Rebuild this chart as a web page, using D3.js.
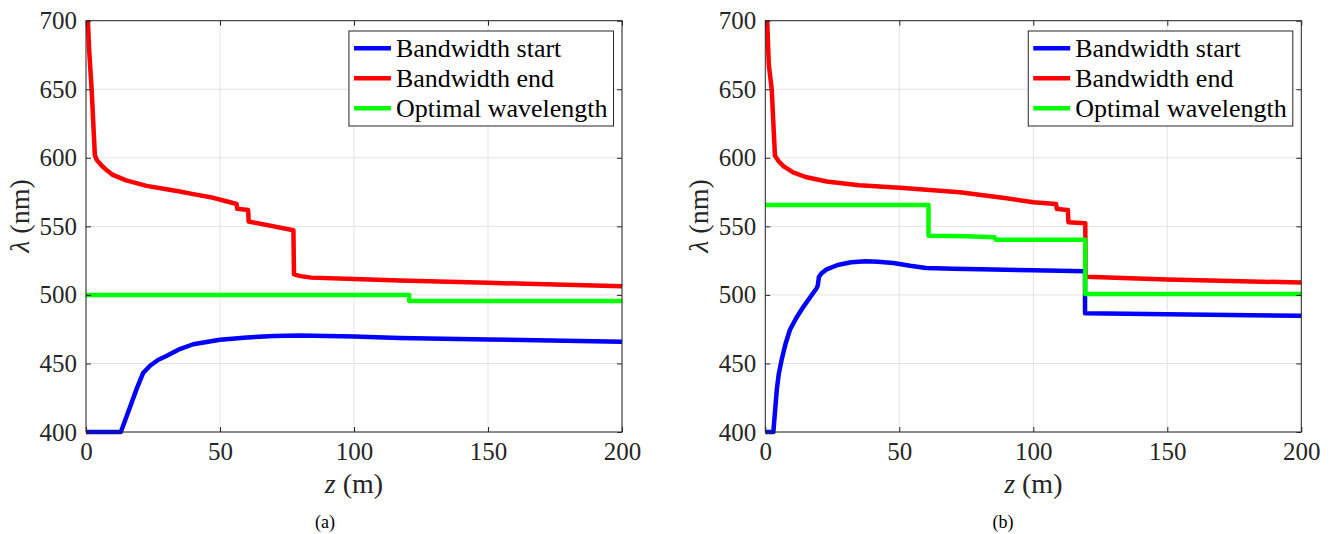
<!DOCTYPE html>
<html>
<head>
<meta charset="utf-8">
<script src="https://cdn.jsdelivr.net/npm/d3@7"></script>
<style>
  body { margin: 0; background: #ffffff; }
</style>
</head>
<body>
<svg id="chart" width="1333" height="534"></svg>
<script>
// axis ticks
const zTicks = [0, 50, 100, 150, 200];
const lambdaTicks = [400, 450, 500, 550, 600, 650, 700];

const seriesNames = ['Bandwidth start', 'Bandwidth end', 'Optimal wavelength'];
const seriesColors = ['#0000ff', '#ff0000', '#00ff00'];

// panel (a): [z, lambda]
const startA = [[0, 400], [13, 400], [16.4, 418], [19, 432], [21.3, 443], [24, 448.5], [27, 452.7],
    [30, 455.5], [35, 460.5], [40, 464], [50, 467.3], [60, 469], [70, 470], [80, 470.3],
    [100, 469.7], [117, 468.5], [150, 467.5], [200, 465.8]];
const endA = [[0.7, 700], [1.2, 678], [2.1, 650], [3.3, 602], [4, 598.5], [6, 594], [8, 590.5],
    [10, 587.5], [15, 583.5], [22.6, 579.5], [30, 577], [35, 575.4], [40, 573.5], [47.5, 570.8],
    [52, 568.5], [56.2, 566.3], [56.4, 562.8], [60.5, 562], [60.7, 553.5], [77.4, 547.2],
    [77.6, 515], [80, 513.7], [84, 512.6], [100, 511.6], [117, 510.5], [150, 508.8], [200, 506.3]];
const optA = [[0, 500], [120.6, 500], [120.6, 495.5], [200, 495.5]];

// panel (b): [z, lambda]
const startB = [[0, 400], [3, 400], [4.3, 431], [5, 442], [6.1, 452.7], [7.5, 464], [9.2, 474.6],
    [11.5, 483], [14.2, 491.3], [17, 499], [19.2, 505], [19.6, 507], [20, 513], [21, 515.8],
    [22.9, 518.6], [27, 521.8], [32, 523.8], [37.5, 524.5], [42, 524.2], [47.8, 523.2],
    [54, 521.2], [60, 519.6], [70, 519.1], [85, 518.5], [100, 517.9], [119.3, 517.2],
    [119.3, 486.6], [150, 485.8], [200, 484.8]];
const endB = [[0.7, 700], [1.3, 668], [2.4, 650], [3.6, 601.5], [5, 597.5], [7, 593.5],
    [10.4, 589.3], [15, 586], [22.9, 582.7], [35, 580], [50.2, 578.2], [72.6, 574.8], [90, 570.5],
    [100, 567.6], [108.5, 566.3], [108.8, 562.6], [112.9, 562], [113.1, 553], [119.4, 552.3],
    [119.5, 513.2], [150, 511.2], [200, 509]];
const optB = [[0, 565.5], [60.9, 565.5], [60.9, 543.2], [75, 542.7], [85.5, 542], [86, 540.3],
    [119.4, 540.3], [119.4, 500.7], [200, 500.7]];

const panels = [
    { left: 86, caption: '(a)', captionX: 325, series: [startA, endA, optA] },
    { left: 765.3, caption: '(b)', captionX: 1003, series: [startB, endB, optB] }
];

const plotW = 536;
const plotTop = 20.7;
const plotBottom = 432;
const axisColor = '#262626';
const FONT = 'Liberation Serif';

const svg = d3.select('#chart');

panels.forEach(p => {
    const x = d3.scaleLinear().domain([0, 200]).range([p.left, p.left + plotW]);
    const y = d3.scaleLinear().domain([400, 700]).range([plotBottom, plotTop]);
    const g = svg.append('g').attr('font-family', FONT);

    // grid
    g.append('g')
        .selectAll('line')
        .data(zTicks)
        .join('line')
        .attr('x1', d => x(d)).attr('x2', d => x(d))
        .attr('y1', plotTop).attr('y2', plotBottom)
        .attr('stroke', '#e3e3e3').attr('stroke-width', 1);
    g.append('g')
        .selectAll('line')
        .data(lambdaTicks)
        .join('line')
        .attr('x1', p.left).attr('x2', p.left + plotW)
        .attr('y1', d => y(d)).attr('y2', d => y(d))
        .attr('stroke', '#e3e3e3').attr('stroke-width', 1);

    // lines
    const line = d3.line().x(d => x(d[0])).y(d => y(d[1]));
    p.series.forEach((s, i) => {
        g.append('path')
            .datum(s)
            .attr('d', line)
            .attr('fill', 'none')
            .attr('stroke', seriesColors[i])
            .attr('stroke-width', 4.5)
            .attr('stroke-linejoin', 'round');
    });

    // axes, ticks pointing inward, box on all sides
    const styleAxis = sel => {
        sel.attr('font-family', FONT).attr('font-size', 25);
        sel.select('.domain').remove();
        sel.selectAll('.tick line').attr('stroke', axisColor);
        sel.selectAll('.tick text').attr('fill', axisColor);
    };
    g.append('g')
        .attr('transform', `translate(0,${plotBottom})`)
        .call(d3.axisBottom(x).tickValues(zTicks).tickSizeInner(-5).tickSizeOuter(0).tickPadding(10))
        .call(styleAxis);
    g.append('g')
        .attr('transform', `translate(0,${plotTop})`)
        .call(d3.axisTop(x).tickValues(zTicks).tickSizeInner(-5).tickSizeOuter(0).tickFormat(''))
        .call(styleAxis);
    g.append('g')
        .attr('transform', `translate(${p.left},0)`)
        .call(d3.axisLeft(y).tickValues(lambdaTicks).tickSizeInner(-5).tickSizeOuter(0).tickPadding(9))
        .call(styleAxis);
    g.append('g')
        .attr('transform', `translate(${p.left + plotW},0)`)
        .call(d3.axisRight(y).tickValues(lambdaTicks).tickSizeInner(-5).tickSizeOuter(0).tickFormat(''))
        .call(styleAxis);
    g.append('rect')
        .attr('x', p.left).attr('y', plotTop)
        .attr('width', plotW).attr('height', plotBottom - plotTop)
        .attr('fill', 'none')
        .attr('stroke', axisColor)
        .attr('stroke-width', 1);

    // axis labels
    const xl = g.append('text')
        .attr('x', p.left + plotW / 2)
        .attr('y', 493)
        .attr('text-anchor', 'middle')
        .attr('font-size', 28)
        .attr('fill', axisColor);
    xl.append('tspan').attr('font-style', 'italic').text('z');
    xl.append('tspan').text(' (m)');

    const yl = g.append('text')
        .attr('transform', `translate(${p.left - 57},216) rotate(-90)`)
        .attr('text-anchor', 'middle')
        .attr('font-size', 28)
        .attr('fill', axisColor);
    yl.append('tspan').attr('font-style', 'italic').text('λ');
    yl.append('tspan').text(' (nm)');

    g.append('text')
        .attr('x', p.captionX)
        .attr('y', 528)
        .attr('text-anchor', 'middle')
        .attr('font-size', 18)
        .attr('fill', '#000')
        .text(p.caption);

    // legend, right-aligned inside the plot box
    const right = p.left + plotW - 8.5;
    const leg = g.append('g');
    const box = leg.append('rect')
        .attr('y', 31).attr('height', 95)
        .attr('fill', '#ffffff')
        .attr('stroke', axisColor)
        .attr('stroke-width', 1);
    const texts = [];
    seriesNames.forEach((name, i) => {
        const yy = 48.3 + i * 30;
        leg.append('line')
            .attr('class', 'leg-line')
            .attr('y1', yy).attr('y2', yy)
            .attr('stroke', seriesColors[i])
            .attr('stroke-width', 4.5);
        texts.push(leg.append('text')
            .attr('y', yy)
            .attr('dy', '0.33em')
            .attr('font-size', 26)
            .attr('fill', '#000')
            .text(name));
    });
    const maxW = d3.max(texts, t => t.node().getComputedTextLength());
    const boxW = maxW + 53;
    const boxLeft = right - boxW;
    box.attr('x', boxLeft).attr('width', boxW);
    leg.selectAll('.leg-line').attr('x1', boxLeft + 5).attr('x2', boxLeft + 42);
    texts.forEach(t => t.attr('x', boxLeft + 47));
});
</script>
</body>
</html>
